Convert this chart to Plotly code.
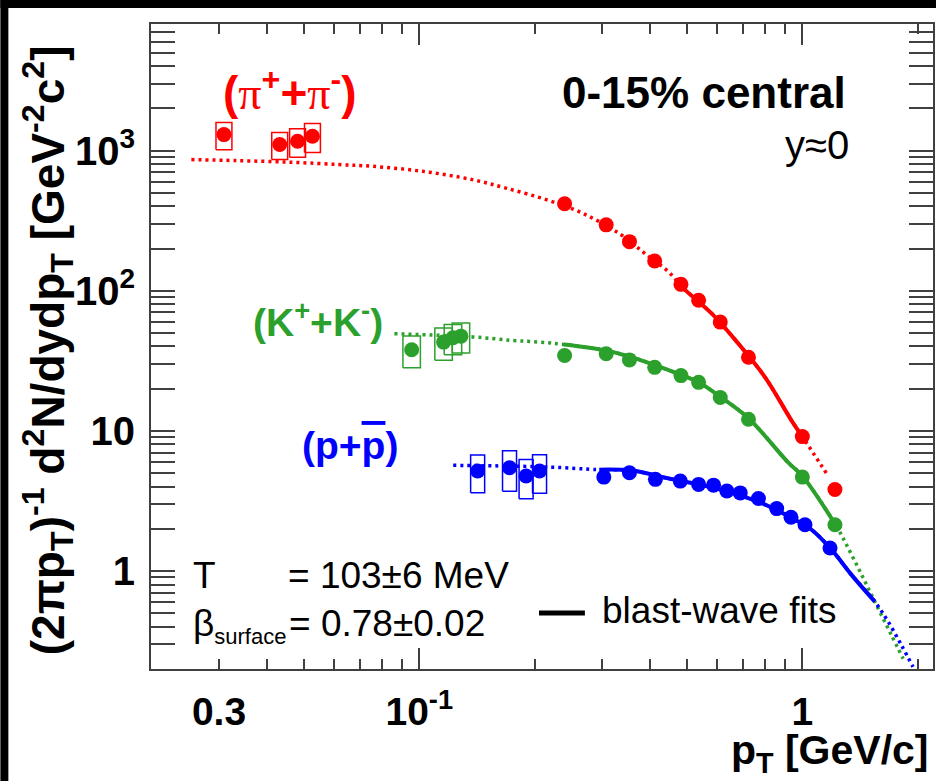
import plotly.graph_objects as go

# ---------------------------------------------------------------------------
# Identified-particle pT spectra, 0-15% central, y~0
# ---------------------------------------------------------------------------

# low-pT points, each with a relative systematic uncertainty (drawn as boxes)
pi_lo_pt = [0.0309, 0.0432, 0.0481, 0.0526]
pi_lo_y = [1300, 1105, 1165, 1265]
pi_lo_sys = [0.22, 0.22, 0.23, 0.235]

k_lo_pt = [0.0955, 0.1157, 0.1224, 0.1284]
k_lo_y = [37.9, 43.0, 46.2, 47.4]
k_lo_sys = [0.255, 0.258, 0.243, 0.243]

p_lo_pt = [0.142, 0.172, 0.190, 0.206]
p_lo_y = [5.17, 5.46, 4.76, 5.17]
p_lo_sys = [0.30, 0.32, 0.31, 0.305]

# higher-pT points
pi_pt = [0.2395, 0.3075, 0.3537, 0.4116, 0.482, 0.536, 0.6105, 0.7234, 1.0, 1.2165]
pi_y = [417, 295, 224, 163, 111, 85.5, 59.7, 33.5, 9.1, 3.82]

k_pt = [0.2395, 0.3075, 0.3537, 0.4116, 0.482, 0.536, 0.6105, 0.7234, 1.0, 1.2165]
k_y = [34.5, 35.5, 32.1, 28.4, 24.8, 22.2, 17.3, 12.1, 4.68, 2.14]

p_pt = [0.3032, 0.3537, 0.4134, 0.4801, 0.536, 0.5864, 0.6353, 0.6884,
        0.768, 0.857, 0.934, 1.016, 1.181]
p_y = [4.68, 5.02, 4.51, 4.38, 4.15, 4.10, 3.72, 3.61, 3.29, 2.79, 2.42, 2.14, 1.46]

# blast-wave curves (dotted: extrapolation, solid: fitted pT window)
pi_fit_pt = [0.0254, 0.0333, 0.0468, 0.0619, 0.0755, 0.102, 0.1377, 0.1682, 0.2181,
             0.2662, 0.3318, 0.3894, 0.4477, 0.48, 0.4949, 0.5803, 0.6813, 0.7995,
             0.938, 1.0, 1.1686]
pi_fit_y = [862, 848, 824, 794, 772, 711, 620, 540, 440,
            358, 257, 183, 136, 110, 101, 68.6, 41.8, 24.1,
            11.8, 9.1, 4.76]
pi_fit_win = (0.48, 1.0)

k_fit_pt = [0.0861, 0.1377, 0.175, 0.2053, 0.2385, 0.3075, 0.3592, 0.4093, 0.4801,
            0.536, 0.6105, 0.7234, 0.9194, 1.0, 1.221, 1.344, 1.457, 1.577, 1.708, 1.833]
k_fit_y = [49.3, 46.8, 44.2, 43.0, 41.4, 37.5, 33.5, 29.7, 25.2,
           22.2, 17.5, 12.3, 5.93, 4.76, 2.14, 1.31, 0.841, 0.541, 0.349, 0.237]
k_fit_win = (0.2385, 1.221)

p_fit_pt = [0.1226, 0.2181, 0.2827, 0.295, 0.3592, 0.4388, 0.536, 0.6545, 0.7995,
            0.938, 1.057, 1.192, 1.344, 1.546, 1.675, 1.814, 1.945]
p_fit_y = [5.68, 5.52, 5.31, 5.29, 5.21, 4.63, 4.15, 3.61, 2.98,
           2.39, 1.97, 1.42, 0.939, 0.605, 0.435, 0.296, 0.207]
p_fit_win = (0.295, 1.546)

# axis ticks
x_major = [0.1, 1]
x_label_vals = [0.03, 0.1, 1]
x_label_text = ["0.3", "10<sup>-1</sup>", "1"]
y_major = [1, 10, 100, 1000]
y_label_text = ["1", "10", "10<sup>2</sup>", "10<sup>3</sup>"]

# ---------------------------------------------------------------------------
RED, GREEN, BLUE = "#ff0000", "#2ca02c", "#0000ff"
AXIS = "#404040"
FONT = "Liberation Sans, Arial, sans-serif"

W, H = 938, 781
ML, MR, MT, MB = 151, 3, 24, 112
PW, PH = W - ML - MR, H - MT - MB


def fx(px):
    return (px - ML) / PW


def fy(py):
    return (H - MB - py) / PH


def box_path(pts, vals, sys, half_w):
    xs, ys = [], []
    for x, v, s in zip(pts, vals, sys):
        x0, x1 = x / half_w, x * half_w
        y0, y1 = v * (1 - s), v * (1 + s)
        xs += [x0, x1, x1, x0, x0, None]
        ys += [y0, y0, y1, y1, y0, None]
    return xs, ys


fig = go.Figure()

# fit curves
for pts, vals, win, col in [(pi_fit_pt, pi_fit_y, pi_fit_win, RED),
                            (k_fit_pt, k_fit_y, k_fit_win, GREEN),
                            (p_fit_pt, p_fit_y, p_fit_win, BLUE)]:
    fig.add_trace(go.Scatter(x=pts, y=vals, mode="lines",
                             line=dict(color=col, width=3.5, dash="3px,4px", shape="spline"),
                             hoverinfo="skip"))
    sx = [x for x in pts if win[0] <= x <= win[1]]
    sy = [v for x, v in zip(pts, vals) if win[0] <= x <= win[1]]
    fig.add_trace(go.Scatter(x=sx, y=sy, mode="lines",
                             line=dict(color=col, width=4, shape="spline"),
                             hoverinfo="skip"))

# data points
for pts, vals, col in [(pi_lo_pt + pi_pt, pi_lo_y + pi_y, RED),
                       (k_lo_pt + k_pt, k_lo_y + k_y, GREEN),
                       (p_lo_pt + p_pt, p_lo_y + p_y, BLUE)]:
    fig.add_trace(go.Scatter(x=pts, y=vals, mode="markers",
                             marker=dict(color=col, size=15, symbol="circle",
                                         line=dict(width=0))))

# systematic boxes (on the overlaid label axis, same scale)
for pts, vals, sys, hw, col in [(pi_lo_pt, pi_lo_y, pi_lo_sys, 1.049, RED),
                                (k_lo_pt, k_lo_y, k_lo_sys, 1.054, GREEN),
                                (p_lo_pt, p_lo_y, p_lo_sys, 1.043, BLUE)]:
    bx, by = box_path(pts, vals, sys, hw)
    fig.add_trace(go.Scatter(x=bx, y=by, mode="lines", xaxis="x2",
                             line=dict(color=col, width=1.5), hoverinfo="skip"))

x_range = [-1.7005, 0.3411]
y_range = [-0.699, 3.903]

x_minor = [d * m for d in (0.01, 0.1, 1) for m in range(2, 10) if 0.02 <= d * m <= 2.1]
y_minor = [d * m for d in (0.1, 1, 10, 100, 1000) for m in range(2, 10) if d * m <= 8000]

fig.update_layout(
    width=W, height=H, autosize=False,
    margin=dict(l=ML, r=MR, t=MT, b=MB, pad=0),
    paper_bgcolor="white", plot_bgcolor="white",
    showlegend=False,
    font=dict(family=FONT, color="black"),
    xaxis=dict(type="log", range=x_range, showgrid=False, zeroline=False,
               showline=True, linecolor=AXIS, linewidth=2, mirror="allticks",
               ticks="inside", tickvals=x_major, ticklen=21, tickwidth=2, tickcolor=AXIS,
               showticklabels=False,
               minor=dict(ticks="inside", tickvals=x_minor, ticklen=10,
                          tickwidth=1.5, tickcolor=AXIS, showgrid=False)),
    xaxis2=dict(type="log", range=x_range, overlaying="x", anchor="y", side="bottom",
                showgrid=False, zeroline=False, showline=False, ticks="",
                tickvals=x_label_vals, ticktext=x_label_text,
                tickfont=dict(size=39, family=FONT, weight="bold", color="black"),
                ticklabelstandoff=16),
    yaxis=dict(type="log", range=y_range, showgrid=False, zeroline=False,
               showline=True, linecolor=AXIS, linewidth=2, mirror="allticks",
               ticks="inside", tickvals=y_major, ticktext=y_label_text,
               ticklen=24, tickwidth=2, tickcolor=AXIS,
               tickfont=dict(size=40, family=FONT, weight="bold", color="black"),
               ticklabelstandoff=6,
               minor=dict(ticks="inside", tickvals=y_minor, ticklen=13,
                          tickwidth=1.5, tickcolor=AXIS, showgrid=False)),
)

SERIF_PI = '<span style="font-family:Liberation Serif;font-weight:normal">π</span>'

annotations = [
    dict(text="(" + SERIF_PI + "<sup>+</sup>+" + SERIF_PI + "<sup>-</sup>)",
         x=fx(221), y=fy(90), xanchor="left", yanchor="middle",
         font=dict(size=46, color=RED, weight="bold")),
    dict(text="(K<sup>+</sup>+K<sup>-</sup>)",
         x=fx(251), y=fy(319), xanchor="left", yanchor="middle",
         font=dict(size=39, color=GREEN, weight="bold")),
    dict(text='(p+<span style="text-decoration:overline">p</span>)',
         x=fx(300), y=fy(445), xanchor="left", yanchor="middle",
         font=dict(size=39, color=BLUE, weight="bold")),
    dict(text="0-15% central", x=fx(850), y=fy(92), xanchor="right", yanchor="middle",
         font=dict(size=44, weight="bold")),
    dict(text="y≈0", x=fx(853), y=fy(145), xanchor="right", yanchor="middle",
         font=dict(size=40)),
    dict(text="T", x=fx(191), y=fy(575), xanchor="left", yanchor="middle",
         font=dict(size=37)),
    dict(text="= 103±6 MeV", x=fx(286), y=fy(575), xanchor="left", yanchor="middle",
         font=dict(size=37)),
    dict(text='β<sub><span style="font-size:22px">surface</span></sub>',
         x=fx(191), y=fy(626), xanchor="left", yanchor="middle",
         font=dict(size=37)),
    dict(text="= 0.78±0.02", x=fx(287), y=fy(623), xanchor="left", yanchor="middle",
         font=dict(size=37)),
    dict(text="blast-wave fits", x=fx(601), y=fy(610), xanchor="left", yanchor="middle",
         font=dict(size=37)),
    dict(text="p<sub>T</sub> [GeV/c]", x=fx(933), y=fy(753), xanchor="right",
         yanchor="middle", font=dict(size=41, weight="bold")),
    dict(text="(2πp<sub>T</sub>)<sup>-1</sup> d<sup>2</sup>N/dydp<sub>T</sub> "
              "[GeV<sup>-2</sup>c<sup>2</sup>]",
         x=fx(47), y=fy(350), xanchor="center", yanchor="middle", textangle=-90,
         font=dict(size=46, weight="bold")),
]
for a in annotations:
    a.update(xref="paper", yref="paper", showarrow=False)
    a["font"].setdefault("family", FONT)
    a["font"].setdefault("color", "black")
fig.update_layout(annotations=annotations)

fig.update_layout(shapes=[
    # legend line for the fit curves
    dict(type="line", xref="paper", yref="paper", x0=fx(540), x1=fx(586),
         y0=fy(613), y1=fy(613), line=dict(color="black", width=5)),
    # dark frame bands along the top and left edges
    dict(type="rect", xref="paper", yref="paper", x0=fx(0), x1=fx(W), y0=fy(8), y1=fy(0),
         fillcolor="black", line=dict(width=0), layer="above"),
    dict(type="rect", xref="paper", yref="paper", x0=fx(0), x1=fx(8), y0=fy(H), y1=fy(0),
         fillcolor="black", line=dict(width=0), layer="above"),
])

fig.write_html("out.html")
